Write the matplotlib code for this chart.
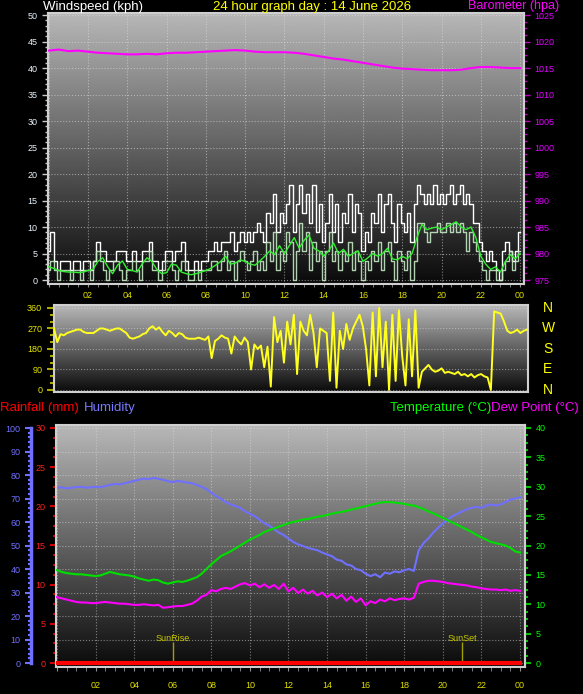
import matplotlib
matplotlib.use('Agg')
import matplotlib.pyplot as plt
import matplotlib.transforms as mtransforms
from matplotlib.ticker import MultipleLocator, FuncFormatter
import numpy as np

plt.rcParams['font.family'] = ['Liberation Sans', 'DejaVu Sans']

W, H = 583, 694

# wind gust (kph), 10 minute samples, 00:00 -> 24:00
gust = [5.4, 9.0, 3.6, 1.8, 3.6, 3.6,
        3.6, 1.8, 3.6, 3.6, 1.8, 3.6,
        3.6, 1.8, 3.6, 7.2, 5.4, 5.4,
        3.6, 3.6, 3.6, 5.4, 5.4, 5.4,
        3.6, 3.6, 5.4, 3.6, 3.6, 5.4,
        5.4, 7.2, 3.6, 3.6, 1.8, 3.6,
        5.4, 5.4, 3.6, 5.4, 5.4, 7.2,
        3.6, 1.8, 1.8, 3.6, 1.8, 3.6,
        3.6, 5.4, 5.4, 7.2, 5.4, 7.2,
        7.2, 7.2, 9.0, 5.4, 7.2, 9.0,
        7.2, 9.0, 7.2, 9.0, 10.8, 9.0,
        7.2, 12.6, 10.8, 16.2, 9.0, 12.6,
        10.8, 14.4, 18.0, 9.0, 14.4, 18.0,
        12.6, 16.2, 10.8, 18.0, 9.0, 14.4,
        7.2, 10.8, 16.2, 9.0, 14.4, 7.2,
        12.6, 10.8, 16.2, 9.0, 14.4, 12.6,
        5.4, 9.0, 7.2, 12.6, 10.8, 16.2,
        9.0, 14.4, 16.2, 10.8, 7.2, 14.4,
        10.8, 9.0, 12.6, 7.2, 14.4, 18.0,
        16.2, 14.4, 16.2, 14.4, 18.0, 14.4,
        16.2, 14.4, 16.2, 18.0, 14.4, 16.2,
        18.0, 14.4, 16.2, 14.4, 10.8, 10.8,
        7.2, 5.4, 3.6, 5.4, 3.6, 1.8,
        0.0, 5.4, 7.2, 5.4, 3.6, 5.4,
        9.0]

# wind speed (kph), 10 minute samples
speed = [1.8, 3.6, 1.8, 0.0, 1.8, 1.8,
         1.8, 0.0, 1.8, 1.8, 0.0, 1.8,
         1.8, 0.0, 3.6, 5.4, 3.6, 1.8,
         0.0, 1.8, 3.6, 3.6, 1.8, 0.0,
         1.8, 1.8, 3.6, 1.8, 0.0, 3.6,
         3.6, 5.4, 1.8, 1.8, 0.0, 1.8,
         3.6, 3.6, 1.8, 0.0, 1.8, 3.6,
         1.8, 0.0, 0.0, 1.8, 0.0, 1.8,
         1.8, 1.8, 3.6, 3.6, 1.8, 3.6,
         5.4, 1.8, 3.6, 0.0, 3.6, 5.4,
         3.6, 1.8, 3.6, 5.4, 1.8, 3.6,
         1.8, 7.2, 3.6, 9.0, 1.8, 5.4,
         3.6, 9.0, 7.2, 0.0, 5.4, 10.8,
         5.4, 9.0, 1.8, 7.2, 3.6, 5.4,
         0.0, 5.4, 9.0, 3.6, 5.4, 1.8,
         5.4, 3.6, 7.2, 1.8, 5.4, 3.6,
         0.0, 3.6, 1.8, 5.4, 3.6, 7.2,
         1.8, 5.4, 7.2, 3.6, 0.0, 5.4,
         3.6, 1.8, 5.4, 0.0, 3.6, 10.8,
         10.8, 9.0, 7.2, 9.0, 9.0, 10.8,
         9.0, 9.0, 10.8, 9.0, 10.8, 9.0,
         10.8, 9.0, 5.4, 9.0, 7.2, 5.4,
         3.6, 1.8, 0.0, 1.8, 1.8, 0.0,
         0.0, 1.8, 3.6, 5.4, 1.8, 3.6,
         5.4]

# average wind speed (kph), 15 minute samples
wind_avg = [2.5, 2.2, 1.8, 1.6,
            1.5, 1.5, 1.4, 1.5,
            1.8, 2.0, 3.5, 4.2,
            2.5, 1.2, 2.8, 3.6,
            2.0, 1.8, 1.5, 3.0,
            4.2, 3.5, 2.0, 1.2,
            1.4, 3.0, 2.8, 1.5,
            1.2, 1.0, 1.2, 1.5,
            1.8, 2.2, 2.8, 3.5,
            4.5, 3.0, 3.2, 3.8,
            3.5, 3.0, 2.8, 3.6,
            4.5, 5.5, 4.8, 6.5,
            5.0, 6.5, 8.0, 6.0,
            7.5, 8.5, 6.0, 5.5,
            4.5, 5.5, 7.0, 5.0,
            5.8, 4.5, 5.0, 5.5,
            3.5, 4.2, 5.0, 4.5,
            5.0, 6.0, 4.0, 3.8,
            4.5, 4.0, 5.0, 8.0,
            10.5, 9.5, 9.8, 10.0,
            9.5, 10.0, 10.5, 11.0,
            10.0, 9.5, 10.0, 8.0,
            4.5, 3.0, 2.0, 2.5,
            1.5, 3.5, 4.8, 4.0,
            5.0]

# barometer (hpa), 30 minute samples
baro = [1018.3, 1018.5, 1018.2, 1018.3, 1018.1, 1017.9, 1017.8, 1017.7,
        1017.6, 1017.6, 1017.7, 1017.6, 1017.8, 1017.9, 1017.9, 1018.0,
        1018.1, 1018.2, 1018.3, 1018.4, 1018.3, 1018.1, 1018.0, 1018.0,
        1018.0, 1017.9, 1017.7, 1017.4, 1017.1, 1016.8, 1016.6, 1016.3,
        1016.0, 1015.7, 1015.4, 1015.1, 1014.9, 1014.8, 1014.7, 1014.6,
        1014.6, 1014.6, 1014.7, 1015.0, 1015.2, 1015.2, 1015.1, 1015.0,
        1015.0]

# wind direction (deg), 10 minute samples
wdir = [270, 210, 245, 240, 250, 255,
        260, 265, 265, 255, 250, 250,
        250, 260, 270, 270, 265, 260,
        265, 270, 270, 260, 250, 230,
        225, 230, 235, 245, 250, 270,
        280, 265, 275, 255, 240, 260,
        250, 235, 250, 245, 230, 225,
        225, 225, 230, 225, 220, 235,
        140, 215, 225, 240, 230, 225,
        160, 235, 215, 200, 230, 210,
        90, 200, 180, 195, 100, 190,
        15, 320, 210, 260, 120, 300,
        200, 330, 70, 300, 260, 240,
        330, 250, 100, 270, 260, 250,
        40, 340, 10, 260, 180, 290,
        220, 270, 300, 330, 280, 180,
        20, 340, 60, 360, 100, 300,
        0, 330, 40, 350, 150, 20,
        310, 60, 350, 10, 80, 95,
        110, 90, 80, 85, 95, 75,
        80, 75, 70, 80, 65, 70,
        60, 70, 55, 65, 70, 60,
        55, 0, 345, 340, 335, 300,
        260, 250, 255, 265, 250, 260,
        265]

# temperature, humidity, dew point: 15 minute samples
temperature = [15.8, 15.5, 15.3, 15.2, 15.1, 15.1, 15.0, 14.9,
               14.8, 14.9, 15.2, 15.5, 15.3, 15.1, 15.0, 14.9,
               14.7, 14.4, 14.2, 14.0, 14.2, 14.1, 13.7, 13.5,
               13.7, 13.9, 13.8, 14.0, 14.3, 14.6, 15.2, 16.0,
               16.8, 17.5, 18.2, 18.6, 19.0, 19.5, 20.0, 20.5,
               21.0, 21.4, 21.8, 22.3, 22.6, 22.9, 23.2, 23.5,
               23.8, 24.0, 24.2, 24.4, 24.5, 24.7, 24.9, 25.0,
               25.2, 25.4, 25.6, 25.7, 25.9, 26.1, 26.3, 26.5,
               26.7, 26.9, 27.1, 27.3, 27.4, 27.4, 27.3, 27.2,
               27.1, 26.9, 26.8, 26.5, 26.2, 25.8, 25.5, 25.1,
               24.7, 24.3, 23.9, 23.5, 23.1, 22.7, 22.3, 21.8,
               21.4, 21.0, 20.6, 20.4, 20.2, 20.0, 19.6, 19.0,
               18.8]

humidity = [74.5, 74.8, 74.3, 74.6, 74.9, 75.0, 74.6, 74.8,
            75.0, 74.8, 75.3, 75.8, 76.2, 76.0, 76.5, 77.0,
            77.5, 78.0, 78.5, 78.2, 78.8, 78.4, 78.0, 77.4,
            77.0, 77.5, 77.2, 76.8, 76.5, 75.8, 75.0, 74.0,
            72.5, 71.0, 69.8, 68.5, 67.5, 66.8, 66.0, 64.5,
            63.5, 62.5, 61.0, 59.5, 58.5, 57.0, 55.5, 54.5,
            53.0, 51.5, 50.5, 49.8, 49.0, 48.5, 48.0, 47.0,
            46.2, 45.5, 44.0, 43.5, 42.0, 41.5, 40.0, 39.5,
            38.0, 37.0, 37.8, 36.5, 38.5, 38.0, 39.0, 38.6,
            39.5, 40.0, 39.2, 48.0, 51.0, 53.0, 55.5, 57.5,
            59.5, 61.0, 62.5, 63.5, 64.5, 65.5, 66.0, 66.5,
            66.0, 67.0, 67.5, 67.0, 67.5, 68.5, 69.5, 70.0,
            70.5]

dew_point = [11.2, 11.0, 10.8, 10.6, 10.4, 10.3, 10.3, 10.2,
             10.2, 10.3, 10.4, 10.3, 10.2, 10.1, 10.1, 10.0,
             9.9, 9.9, 10.0, 9.9, 9.8, 9.9, 9.4, 9.5,
             9.6, 9.7, 9.7, 9.9, 10.1, 10.6, 11.3, 11.6,
             12.4, 12.2, 12.6, 12.8, 12.6, 13.0, 13.4, 13.6,
             13.2, 13.5, 12.9, 13.4, 12.8, 13.3, 12.6, 13.5,
             12.2, 12.8, 11.9, 12.5, 11.8, 12.3, 11.5, 12.0,
             11.2, 11.8, 11.0, 11.6, 10.6, 11.3, 10.4, 11.0,
             9.8, 10.5, 10.2, 10.8, 10.5, 11.0, 10.7, 10.9,
             11.0, 10.8, 11.1, 13.5, 13.8, 14.0, 14.0, 13.9,
             13.8, 13.6, 13.5, 13.4, 13.3, 13.2, 13.0, 12.9,
             12.7, 12.6, 12.5, 12.5, 12.4, 12.5, 12.3, 12.4,
             12.3]

# rainfall (mm), hourly
rain = [0.0] * 25

sun_times = [6.0, 21.0]
sun_labels = ['SunRise', 'SunSet']
compass = ['N', 'W', 'S', 'E', 'N']
compass_deg = [360, 270, 180, 90, 0]

t10 = np.arange(len(gust)) / 6.0
t15 = np.arange(len(wind_avg)) / 4.0
t30 = np.arange(len(baro)) / 2.0
t60 = np.arange(len(rain)) / 1.0


def px_box(x0, y0, x1, y1):
    return [x0 / W, 1 - y1 / H, (x1 - x0) / W, (y1 - y0) / H]


def shade(ax):
    # grey-to-black vertical gradient behind the data
    grad = np.linspace(0.72, 0.04, 256).reshape(-1, 1)
    ax.imshow(grad, cmap='gray', vmin=0, vmax=1, aspect='auto',
              extent=[0, 1, 0, 1], transform=ax.transAxes, zorder=0)
    ax.set_facecolor('black')


def hour_fmt(v, pos):
    h = int(round(v))
    return '' if h == 0 else '%02d' % (h % 24)


def frame(ax, sides=('left', 'right', 'top', 'bottom')):
    for s in ('left', 'right', 'top', 'bottom'):
        if s in sides:
            ax.spines[s].set_color('#cfcfcf')
            ax.spines[s].set_linewidth(1.5)
        else:
            ax.spines[s].set_visible(False)


fig = plt.figure(figsize=(W / 100, H / 100), dpi=100, facecolor='black')

# ---------------- wind speed / barometer ----------------
ax1 = fig.add_axes(px_box(48, 13, 524, 284))
shade(ax1)
ax1.plot(t10, gust, color='white', lw=1, drawstyle='steps-mid', zorder=3)
ax1.plot(t10, speed, color='#c4e8c4', lw=1, drawstyle='steps-mid', alpha=0.9, zorder=3)
ax1.plot(t15, wind_avg, color='#30f030', lw=1, zorder=4)
ax1.set_xlim(-0.04, 24.2)
ax1.set_ylim(-0.75, 50.4)
ax1.xaxis.set_major_locator(MultipleLocator(2))
ax1.xaxis.set_minor_locator(MultipleLocator(0.5))
ax1.xaxis.set_major_formatter(FuncFormatter(hour_fmt))
ax1.yaxis.set_major_locator(MultipleLocator(5))
ax1.yaxis.set_minor_locator(MultipleLocator(1))
ax1.grid(True, which='major', color='#e0e0e0', ls=':', lw=0.8, alpha=0.55)
ax1.tick_params(axis='y', which='both', colors='#c8c8c8', labelcolor='#e8f4ff',
                labelsize=6.5, width=1)
ax1.tick_params(axis='y', which='major', length=4)
ax1.tick_params(axis='y', which='minor', length=2)
ax1.tick_params(axis='x', which='both', colors='#909090', labelcolor='#e0e000',
                labelsize=6.5, length=2, pad=3)
frame(ax1)

axb = ax1.twinx()
axb.plot(t30, baro, color='#ff00ff', lw=1.5, zorder=3)
axb.set_ylim(974.25, 1025.4)
axb.yaxis.set_major_locator(MultipleLocator(5))
axb.yaxis.set_minor_locator(MultipleLocator(1.25))
axb.tick_params(axis='y', which='both', colors='#c000c0', labelcolor='#e000ff',
                labelsize=6.5, width=1)
axb.tick_params(axis='y', which='major', length=4)
axb.tick_params(axis='y', which='minor', length=2)
frame(axb, ('right',))

# ---------------- wind direction ----------------
ax2 = fig.add_axes(px_box(54, 305, 528, 392))
shade(ax2)
ax2.plot(t10, wdir, color='#ffff20', lw=1.4, zorder=3)
ax2.set_xlim(0, 24.05)
ax2.set_ylim(-8.8, 373)
ax2.set_xticks([])
ax2.yaxis.set_major_locator(MultipleLocator(90))
ax2.yaxis.set_minor_locator(MultipleLocator(30))
ax2.grid(True, axis='y', which='major', color='#e0e0e0', ls=':', lw=0.8, alpha=0.5)
ax2.tick_params(axis='y', which='both', colors='#a8a800', labelcolor='#e8e800',
                labelsize=6.5, width=1.5)
ax2.tick_params(axis='y', which='major', length=5)
ax2.tick_params(axis='y', which='minor', length=3)
frame(ax2)
trans = mtransforms.blended_transform_factory(fig.transFigure, ax2.transData)
for ch, d in zip(compass, compass_deg):
    ax2.text(548 / W, d, ch, transform=trans, color='#ffff00', fontsize=10,
             ha='center', va='center', clip_on=False)

# ---------------- humidity / rain / temperature ----------------
ax3 = fig.add_axes(px_box(56, 425, 525, 667))
shade(ax3)
ax3.plot(t15, humidity, color='#7070ff', lw=1.5, zorder=3)
ax3.set_xlim(-0.05, 24.26)
ax3.set_ylim(-1.7, 101.3)
ax3.xaxis.set_major_locator(MultipleLocator(2))
ax3.xaxis.set_minor_locator(MultipleLocator(0.5))
ax3.xaxis.set_major_formatter(FuncFormatter(hour_fmt))
ax3.yaxis.set_major_locator(MultipleLocator(10))
ax3.yaxis.set_minor_locator(MultipleLocator(2))
ax3.grid(True, which='major', color='#e0e0e0', ls=':', lw=0.8, alpha=0.5)
ax3.tick_params(axis='x', which='both', colors='#909090', labelcolor='#e0e000',
                labelsize=6.5, length=3, pad=7)
ax3.tick_params(axis='y', which='both', colors='#7070ff', labelsize=6.5, width=1.5)
ax3.tick_params(axis='y', which='major', length=4)
ax3.tick_params(axis='y', which='minor', length=2.5)
frame(ax3, ('top', 'bottom', 'right'))
ax3.spines['left'].set_visible(True)
ax3.spines['left'].set_position(('outward', 18))
ax3.spines['left'].set_color('#7070ff')
ax3.spines['left'].set_linewidth(2.5)
ax3.spines['left'].set_bounds(0, 100)

for st, lab in zip(sun_times, sun_labels):
    ax3.vlines(st, 0, 9, colors='#a0a000', lw=1, zorder=2)
    ax3.text(st, 10.6, lab, color='#c8c800', fontsize=6.5, ha='center',
             va='center', zorder=2)

axr = ax3.twinx()
axr.yaxis.tick_left()
axr.yaxis.set_label_position('left')
axr.plot(t60, rain, color='#ff0000', lw=3, zorder=4)
axr.set_ylim(-0.51, 30.38)
axr.yaxis.set_major_locator(MultipleLocator(5))
axr.yaxis.set_minor_locator(MultipleLocator(1.25))
axr.tick_params(axis='y', which='both', colors='#d00000', labelcolor='#ff2020',
                labelsize=6.5, width=1.5)
axr.tick_params(axis='y', which='major', length=4)
axr.tick_params(axis='y', which='minor', length=2)
frame(axr, ('left',))

axt = ax3.twinx()
axt.plot(t15, temperature, color='#00e000', lw=1.5, zorder=3)
axt.plot(t15, dew_point, color='#ff00ff', lw=1.5, zorder=3)
axt.set_ylim(-0.68, 40.51)
axt.yaxis.set_major_locator(MultipleLocator(5))
axt.yaxis.set_minor_locator(MultipleLocator(1.25))
axt.tick_params(axis='y', which='both', colors='#00c000', labelcolor='#00ff00',
                labelsize=6.5, width=1.5)
axt.tick_params(axis='y', which='major', length=4)
axt.tick_params(axis='y', which='minor', length=2)
frame(axt, ('right',))

# ---------------- titles ----------------
fig.text(43 / W, 1 - 7 / H, 'Windspeed (kph)', color='white', fontsize=9.5,
         ha='left', va='center')
fig.text(312 / W, 1 - 7 / H, '24 hour graph day : 14 June 2026', color='#ffff00',
         fontsize=9.5, ha='center', va='center')
fig.text(559 / W, 1 - 6 / H, 'Barometer (hpa)', color='#ff00ff', fontsize=9,
         ha='right', va='center')
fig.text(0, 1 - 408 / H, 'Rainfall (mm)', color='#ff0000', fontsize=9.5,
         ha='left', va='center')
fig.text(84 / W, 1 - 408 / H, 'Humidity', color='#7878ff', fontsize=9.5,
         ha='left', va='center')
fig.text(491 / W, 1 - 408 / H, 'Temperature (°C)', color='#00ff00', fontsize=9.5,
         ha='right', va='center')
fig.text(491 / W, 1 - 408 / H, 'Dew Point (°C)', color='#ff00ff', fontsize=9.5,
         ha='left', va='center')

fig.savefig('out.png', dpi=100, facecolor='black')
